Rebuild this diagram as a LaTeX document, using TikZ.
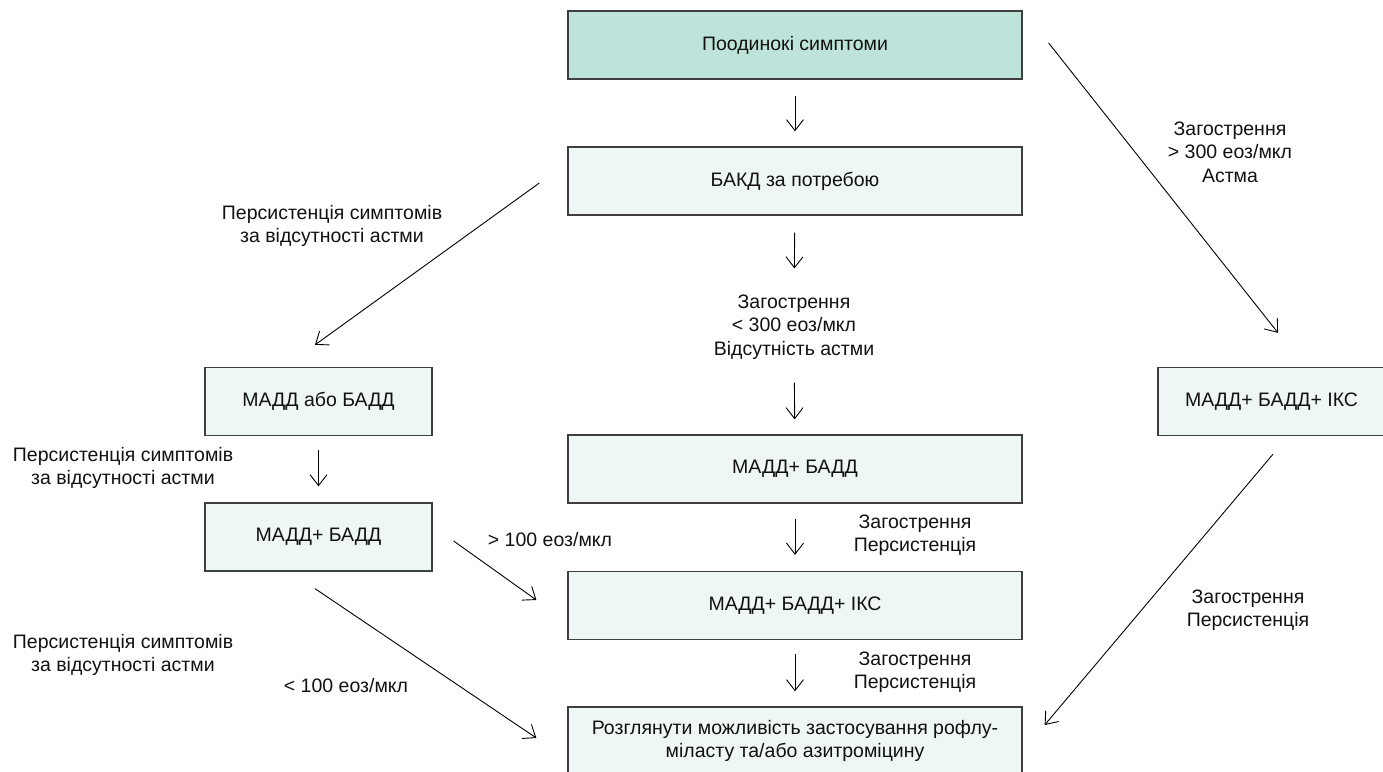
\documentclass[tikz,border=0pt]{standalone}
\usepackage{fontspec}
\setmainfont{Liberation Sans}
\usetikzlibrary{arrows.meta,calc}
\definecolor{boxline}{HTML}{3F3F3F}
\definecolor{topfill}{HTML}{BDE3DA}
\definecolor{boxfill}{HTML}{EEF7F5}
\definecolor{ink}{HTML}{111111}

\begin{document}
\begin{tikzpicture}[x=1pt,y=-1pt,
  txt/.style={font=\fontsize{19.5}{23.5}\selectfont, text=ink},
  box/.style={txt, draw=boxline, line width=1.3pt, fill=boxfill,
    minimum height=68pt, inner sep=0pt, align=center},
  wide/.style={box, minimum width=454pt},
  narrow/.style={box, minimum width=227pt},
  lbl/.style={txt, inner sep=0pt, align=center},
  arr/.style={draw=black, line width=0.9pt,
    -{Straight Barb[length=11pt,width=17pt]}}]

\useasboundingbox (0,0) rectangle (1383,771);

% main column
\node[wide, fill=topfill] (top) at (795,45)    {Поодинокі симптоми};
\node[wide]               (bakd) at (795,181)  {БАКД за потребою};
\node[wide]               (m1)   at (795,469)  {МАДД+ БАДД};
\node[wide]               (ics)  at (795,605.5){МАДД+ БАДД+ ІКС};
\node[wide]               (fin)  at (795,741)
  {Розглянути можливість застосування рофлу-\\міласту та/або азитроміцину};

% left column
\node[narrow] (lo) at (318.5,401.5) {МАДД або БАДД};
\node[narrow] (lm) at (318.5,537)   {МАДД+ БАДД};

% right column
\node[narrow] (rt) at (1271.5,401.5) {МАДД+ БАДД+ ІКС};

% labels
\node[lbl] (l300)  at (794,327)  {Загострення\\< 300 еоз/мкл\\Відсутність астми};
\node[lbl] (lp1)   at (332,226)  {Персистенція симптомів\\за відсутності астми};
\node[lbl] (lp2)   at (123,468)  {Персистенція симптомів\\за відсутності астми};
\node[lbl] (lp3)   at (123,655)  {Персистенція симптомів\\за відсутності астми};
\node[lbl] (lgt3)  at (1230,152) {Загострення\\> 300 еоз/мкл\\Астма};
\node[lbl] (lgt1)  at (550,540)  {> 100 еоз/мкл};
\node[lbl] (llt1)  at (346,686)  {< 100 еоз/мкл};
\node[lbl] (lzp1)  at (915,535)  {Загострення\\Персистенція};
\node[lbl] (lzp2)  at (915,672)  {Загострення\\Персистенція};
\node[lbl] (lzp3)  at (1248,610) {Загострення\\Персистенція};

% vertical connectors
\draw[arr, shorten <=16pt, shorten >=15pt] (top) -- (bakd);
\draw[arr, shorten <=17pt, shorten >=26pt] (bakd) -- (l300);
\draw[arr, shorten <=23pt, shorten >=15pt] (l300) -- (m1);
\draw[arr, shorten <=15pt, shorten >=16pt] (m1) -- (ics);
\draw[arr, shorten <=14pt, shorten >=15pt] (ics) -- (fin);
\draw[arr, shorten <=14pt, shorten >=16pt] (lo) -- (lm);

% diagonal connectors
\draw[arr] ($(bakd.west)+(-28,2)$) -- ($(lo.north)+(-3.5,-22)$);
\draw[arr] ($(top.east)+(26,-2)$)  -- ($(rt.north)+(6.5,-34)$);
\draw[arr] ($(lm.east)+(21,4)$)    -- ($(ics.west)+(-31,-5.5)$);
\draw[arr] ($(lm.south)+(-3.5,17)$) -- ($(fin.west)+(-31,-3)$);
\draw[arr] ($(rt.south)+(1.5,18)$) -- ($(fin.east)+(22,-16)$);
\end{tikzpicture}
\end{document}
